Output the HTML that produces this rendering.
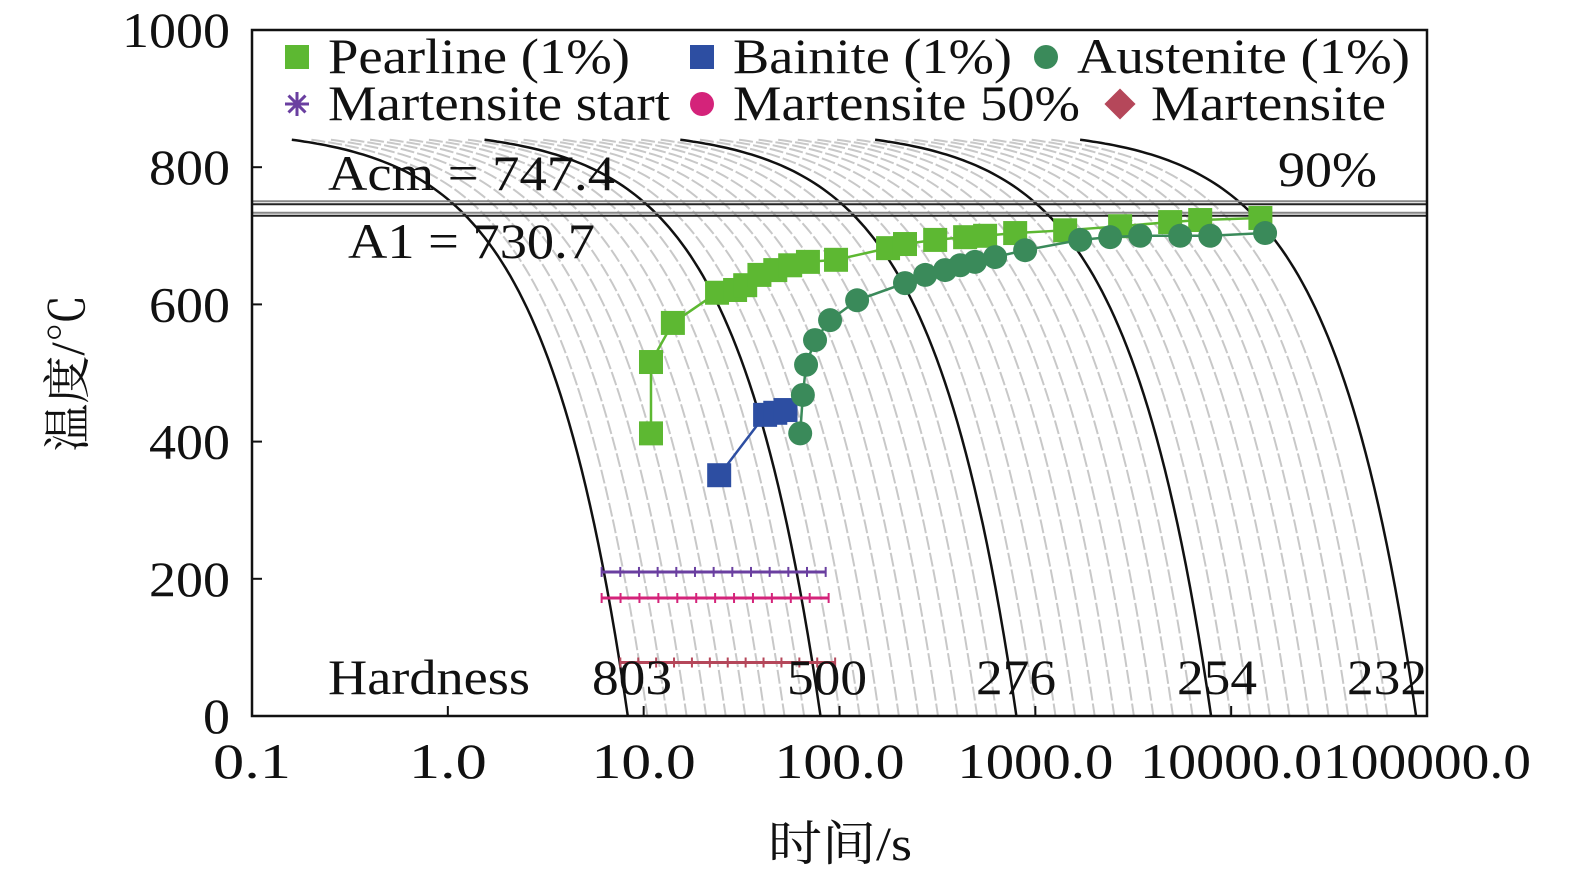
<!DOCTYPE html>
<html><head><meta charset="utf-8"><style>
body{margin:0;background:#fff;}
svg{display:block;font-family:"Liberation Serif","Noto Serif CJK SC",serif;}
</style></head><body>
<svg id="chart" width="1575" height="882" viewBox="0 0 1575 882" xmlns="http://www.w3.org/2000/svg"></svg>
<script>
const xTicks=[0.1,1,10,100,1000,10000,100000];
const xTickLabels=["0.1","1.0","10.0","100.0","1000.0","10000.0","100000.0"];
const yTicks=[0,200,400,600,800,1000];
const hardnessLabels=["803","500","276","254","232"];
const blackEndTimes=[8.3,80,800,7900,88000];
const pearliteT=[10.9,10.9,14.1,23.7,29.3,33,39,47,56,69,96,177,216,308,438,554,789,1420,2710,4880,6950,14100];
const pearliteV=[412,516,573,617,621,628,643,650,657,662,665,682,688,694,698,700,704,708,714,720,723,726];
const bainiteT=[24.3,41.7,47,53];
const bainiteV=[351,439,442,446];
const austeniteT=[63,65,67.5,75,89.5,123,216,274,346,413,492,623,887,1694,2410,3430,5490,7820,14900];
const austeniteV=[412,468,512,548,577,606,631,643,650,657,662,669,679,694,698,700,700,700,704];
const msT=[6.1,85]; const msV=210;
const m50T=[6.1,88]; const m50V=172;
const mfT=[7.6,95]; const mfV=78;
const acm=747.4, a1=730.7;

const X0=252,X1=1427,Y0=716,Y1=30;
function xs(t){return X0+(Math.log10(t)+1)*(X1-X0)/6;}
function ys(v){return Y0-v*(Y0-Y1)/1000;}
const svg=document.getElementById('chart');
const NS='http://www.w3.org/2000/svg';
function el(tag,attrs,parent){const e=document.createElementNS(NS,tag);for(const k in attrs)e.setAttribute(k,attrs[k]);(parent||svg).appendChild(e);return e;}
function txt(s,x,y,size,anchor,parent,len){const a={x:x,y:y,'font-size':size,'text-anchor':anchor||'start',fill:'#111'};if(len){a.textLength=len;a.lengthAdjust='spacingAndGlyphs';}const t=el('text',a,parent);t.textContent=s;return t;}

const cg=el('g',{});


for(let d=0;d<5;d++){
  for(let k=0;k<10;k++){
    if(d==4&&k>0)break;
    const tEnd=blackEndTimes[d]*Math.pow(10,k/10);
    const t0=tEnd/52;
    let pts=[];
    for(let i=0;i<=80;i++){
      const lt=Math.log10(t0)+(Math.log10(tEnd)-Math.log10(t0))*i/80;
      const t=Math.pow(10,lt);
      const T=Math.max(0,840-840*(t-t0)/(tEnd-t0));
      pts.push(xs(t).toFixed(1)+','+ys(T).toFixed(1));
    }
    const p=el('polyline',{points:pts.join(' '),fill:'none',stroke:k==0?'#111':'#c8c8c8','stroke-width':k==0?2.5:2,'stroke-dasharray':k==0?'none':'14,3'},cg);
    
    
  }
}
[[acm,'acm-line'],[a1,'a1-line']].forEach(([v,n])=>{
  const g=el('g',{});
  
  
  el('line',{x1:X0,x2:X1,y1:ys(v)-2,y2:ys(v)-2,stroke:'#888','stroke-width':2},g);
  el('line',{x1:X0,x2:X1,y1:ys(v)+1,y2:ys(v)+1,stroke:'#222','stroke-width':2},g);
});
function hline(T,v,color,name){
  const g=el('g',{});
  
  
  el('line',{x1:xs(T[0]),x2:xs(T[1]),y1:ys(v),y2:ys(v),stroke:color,'stroke-width':3},g);
  for(let i=0;i<=12;i++){const x=xs(T[0])+(xs(T[1])-xs(T[0]))*i/12;el('line',{x1:x,x2:x,y1:ys(v)-5,y2:ys(v)+5,stroke:color,'stroke-width':2},g);}
}
hline(msT,msV,'#6a3fa0','martensite-start-line');
hline(m50T,m50V,'#d4237a','martensite-50-line');
hline(mfT,mfV,'#b5475a','martensite-line');
function series(T,V,color,shape,name){
  const g=el('g',{});
  
  
  el('polyline',{points:T.map((t,i)=>xs(t)+','+ys(V[i])).join(' '),fill:'none',stroke:color,'stroke-width':2.5},g);
  T.forEach((t,i)=>{
    let m;
    if(shape=='sq')m=el('rect',{x:xs(t)-12,y:ys(V[i])-12,width:24,height:24,fill:color},g);
    else m=el('circle',{cx:xs(t),cy:ys(V[i]),r:12,fill:color},g);
    
    
  });
}
series(pearliteT,pearliteV,'#5db832','sq','pearlite-series');
series(bainiteT,bainiteV,'#2d4ea2','sq','bainite-series');
series(austeniteT,austeniteV,'#3a8a5a','ci','austenite-series');
const ax=el('g',{});


el('rect',{x:X0,y:Y1,width:X1-X0,height:Y0-Y1,fill:'none',stroke:'#111','stroke-width':2.5},ax);
xTicks.forEach((t,i)=>{el('line',{x1:xs(t),x2:xs(t),y1:Y0,y2:Y0-10,stroke:'#111','stroke-width':2},ax);
  const l=txt(xTickLabels[i],xs(t),778,50,'middle',ax,xTickLabels[i].length*26);});
yTicks.forEach(v=>{el('line',{x1:X0,x2:X0+10,y1:ys(v),y2:ys(v),stroke:'#111','stroke-width':2},ax);
  const s=String(v);
  const l=txt(s,230,ys(v)+17,50,'end',ax,s.length*27);});
const xt=txt('时间/s',840,860,48,'middle',null,144);
const yt=txt('温度/℃',0,0,48,'middle');yt.setAttribute('transform','translate(84,373) rotate(-90)');
[['Acm = 747.4',328,190,287],['A1 = 730.7',348,258,247],['90%',1278,186,99],['Hardness',328,694,202]].forEach(([s,x,y,w])=>{const t=txt(s,x,y,50,'start',null,w);});
const hx=[632,827,1016,1217,1387];
hardnessLabels.forEach((h,i)=>{const t=txt(h,hx[i],694,50,'middle',null,80);});
const lg=el('g',{});


function leg(sym,x,y,color,label,w){
  const g=el('g',{},lg);
  
  
  if(sym=='sq')el('rect',{x:x-12,y:y-12,width:24,height:24,fill:color},g);
  else if(sym=='ci')el('circle',{cx:x,cy:y,r:12,fill:color},g);
  else if(sym=='di')el('rect',{x:x-11,y:y-11,width:22,height:22,fill:color,transform:`rotate(45 ${x} ${y})`},g);
  else {[0,45,90,135].forEach(a=>el('line',{x1:x-12,y1:y,x2:x+12,y2:y,stroke:color,'stroke-width':3,transform:`rotate(${a} ${x} ${y})`},g));}
  txt(label,x+31,y+16,50,'start',g,w);
}
leg('sq',297,57,'#5db832','Pearline (1%)',302);
leg('sq',702,57,'#2d4ea2','Bainite (1%)',279);
leg('ci',1046,57,'#3a8a5a','Austenite (1%)',333);
leg('st',297,104,'#6a3fa0','Martensite start',342);
leg('ci',702,104,'#d4237a','Martensite 50%',347);
leg('di',1120,104,'#b5475a','Martensite',235);
</script>
</body></html>
